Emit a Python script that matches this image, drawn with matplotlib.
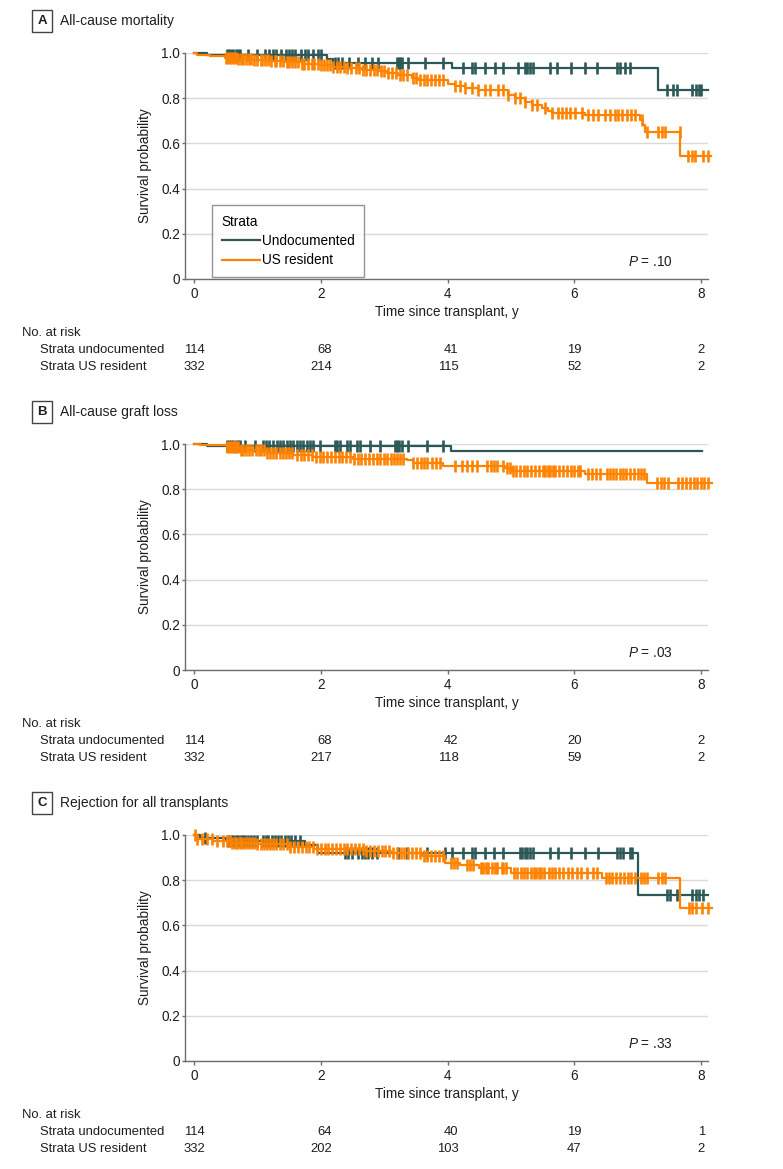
import numpy as np
import matplotlib
matplotlib.use("Agg")
import matplotlib.pyplot as plt
from matplotlib.lines import Line2D
from matplotlib.transforms import blended_transform_factory, ScaledTranslation

plt.rcParams["font.family"] = ["Liberation Sans", "DejaVu Sans"]
plt.rcParams["mathtext.fontset"] = "custom"
plt.rcParams["mathtext.it"] = "Liberation Sans:italic"
plt.rcParams["mathtext.rm"] = "Liberation Sans"

TEAL = "#2c5858"
ORANGE = "#ff8300"
GRAY = "#6e6e6e"
TXT = "#1e1e1e"
FS = 9.8      # axis text
FS_T = 10.0   # panel titles
FS_R = 9.4    # number-at-risk table

# ---------------- data ----------------
titles = ["All-cause mortality", "All-cause graft loss", "Rejection for all transplants"]
letters = ["A", "B", "C"]
p_labels = [".10", ".03", ".33"]
risk_times = [0, 2, 4, 6, 8]
group_names = ["Undocumented", "US resident"]
risk_rows = ["Strata undocumented", "Strata US resident"]

# panel A
A_ud_t = [0, 0.2, 2.1, 2.2, 4.07, 7.32]
A_ud_s = [1.0, 0.99, 0.975, 0.957, 0.932, 0.836]
A_ud_end = 8.1
A_ud_cens = [0.52, 0.55, 0.58, 0.62, 0.66, 0.70, 0.72, 0.85, 1.00, 1.12, 1.18, 1.25, 1.30,
             1.38, 1.45, 1.50, 1.55, 1.60, 1.68, 1.75, 1.80, 1.88, 1.95, 2.00, 2.22, 2.27,
             2.33, 2.45, 2.59, 2.70, 2.81, 2.90, 3.20, 3.23, 3.25, 3.28, 3.38, 3.64, 3.93,
             4.24, 4.39, 4.43, 4.59, 4.75, 4.87, 5.11, 5.22, 5.26, 5.30, 5.35, 5.62, 5.72,
             5.95, 6.17, 6.36, 6.67, 6.72, 6.80, 6.88, 7.46, 7.56, 7.62, 7.85, 7.92, 7.96, 8.00]
A_us_t = [0, 0.05, 0.25, 0.49, 0.7, 0.91, 1.2, 1.44, 1.7, 1.96, 2.2, 2.38, 2.65, 2.9, 3.05,
          3.22, 3.44, 3.53, 4.0, 4.12, 4.27, 4.48, 4.95, 5.06, 5.22, 5.33, 5.49, 5.58, 5.65,
          6.17, 7.03, 7.08, 7.11, 7.67]
A_us_s = [1.0, 0.991, 0.985, 0.98, 0.975, 0.969, 0.964, 0.959, 0.953, 0.947, 0.94, 0.932,
          0.926, 0.92, 0.912, 0.903, 0.888, 0.88, 0.861, 0.855, 0.844, 0.836, 0.814, 0.8,
          0.785, 0.77, 0.755, 0.743, 0.736, 0.726, 0.704, 0.681, 0.652, 0.544]
A_us_end = 8.15
A_us_cens = [0.50, 0.53, 0.56, 0.60, 0.63, 0.67, 0.70, 0.74, 0.78, 0.82, 0.86, 0.90, 0.95,
             1.00, 1.05, 1.08, 1.12, 1.17, 1.22, 1.27, 1.30, 1.35, 1.40, 1.46, 1.50, 1.55,
             1.60, 1.64, 1.70, 1.74, 1.80, 1.86, 1.90, 1.95, 2.00, 2.05, 2.10, 2.15, 2.20,
             2.26, 2.30, 2.36, 2.42, 2.48, 2.55, 2.60, 2.66, 2.72, 2.78, 2.84, 2.88, 2.95,
             3.00, 3.06, 3.12, 3.18, 3.25, 3.30, 3.36, 3.45, 3.50, 3.56, 3.62, 3.68, 3.74,
             3.80, 3.86, 3.92, 4.12, 4.20, 4.27, 4.38, 4.48, 4.59, 4.67, 4.79, 4.87, 4.95,
             5.06, 5.14, 5.22, 5.33, 5.41, 5.54, 5.65, 5.74, 5.80, 5.87, 5.93, 6.01, 6.12,
             6.21, 6.29, 6.37, 6.48, 6.56, 6.64, 6.69, 6.75, 6.83, 6.89, 6.96, 7.07, 7.15,
             7.32, 7.38, 7.43, 7.66, 7.79, 7.85, 7.90, 8.03, 8.11]
A_risk_ud = [114, 68, 41, 19, 2]
A_risk_us = [332, 214, 115, 52, 2]

# panel B
B_ud_t = [0, 0.2, 4.05]
B_ud_s = [1.0, 0.99, 0.968]
B_ud_end = 8.02
B_ud_cens = [0.52, 0.55, 0.58, 0.62, 0.66, 0.70, 0.73, 0.80, 0.96, 1.09, 1.13, 1.18, 1.24,
             1.31, 1.36, 1.41, 1.46, 1.51, 1.56, 1.62, 1.67, 1.72, 1.78, 1.83, 1.88, 1.99,
             2.22, 2.26, 2.30, 2.41, 2.46, 2.57, 2.62, 2.78, 2.93, 3.17, 3.20, 3.24, 3.28,
             3.38, 3.67, 3.93]
B_us_t = [0, 0.1, 0.52, 0.73, 1.15, 1.56, 1.88, 2.51, 3.36, 3.46, 3.93, 4.9, 5.02, 6.17, 7.14]
B_us_s = [1.0, 0.995, 0.985, 0.973, 0.962, 0.951, 0.941, 0.935, 0.929, 0.918, 0.904, 0.892,
          0.882, 0.866, 0.826]
B_us_end = 8.17
B_us_cens = [0.52, 0.55, 0.58, 0.61, 0.64, 0.67, 0.70, 0.74, 0.78, 0.82, 0.87, 0.92, 0.97,
             1.02, 1.06, 1.10, 1.15, 1.20, 1.25, 1.30, 1.35, 1.40, 1.45, 1.50, 1.55, 1.62,
             1.68, 1.74, 1.80, 1.86, 1.92, 1.98, 2.04, 2.10, 2.16, 2.22, 2.28, 2.34, 2.40,
             2.46, 2.52, 2.58, 2.64, 2.70, 2.76, 2.82, 2.88, 2.93, 3.00, 3.05, 3.10, 3.15,
             3.20, 3.25, 3.30, 3.46, 3.52, 3.58, 3.62, 3.68, 3.75, 3.82, 3.88, 4.12, 4.23,
             4.30, 4.38, 4.46, 4.62, 4.68, 4.73, 4.78, 4.87, 4.93, 4.98, 5.03, 5.08, 5.14,
             5.20, 5.26, 5.32, 5.38, 5.44, 5.50, 5.54, 5.58, 5.62, 5.66, 5.70, 5.76, 5.82,
             5.88, 5.94, 6.00, 6.05, 6.09, 6.21, 6.28, 6.34, 6.40, 6.51, 6.56, 6.61, 6.66,
             6.72, 6.77, 6.82, 6.88, 6.94, 7.00, 7.05, 7.10, 7.30, 7.36, 7.42, 7.48, 7.63,
             7.70, 7.76, 7.82, 7.88, 7.94, 8.00, 8.05, 8.10]
B_risk_ud = [114, 68, 42, 20, 2]
B_risk_us = [332, 217, 118, 59, 2]

# panel C
C_ud_t = [0, 0.1, 0.5, 1.75, 1.95, 7.0]
C_ud_s = [1.0, 0.985, 0.975, 0.955, 0.922, 0.735]
C_ud_end = 8.1
C_ud_cens = [0.17, 0.54, 0.58, 0.62, 0.66, 0.70, 0.74, 0.77, 0.80, 0.85, 0.90, 0.95, 0.99,
             1.09, 1.13, 1.17, 1.23, 1.28, 1.33, 1.38, 1.43, 1.48, 1.53, 1.59, 1.67, 2.38,
             2.43, 2.49, 2.59, 2.65, 2.70, 2.75, 2.81, 2.89, 3.22, 3.36, 3.67, 3.96, 4.07,
             4.24, 4.38, 4.43, 4.59, 4.73, 4.87, 5.14, 5.18, 5.22, 5.26, 5.30, 5.35, 5.62,
             5.74, 5.95, 6.17, 6.37, 6.67, 6.72, 6.77, 6.88, 6.91, 7.46, 7.51, 7.62, 7.85,
             7.92, 7.97, 8.03]
C_us_t = [0, 0.05, 0.3, 0.6, 1.0, 1.5, 1.9, 2.7, 3.1, 3.6, 3.96, 4.2, 4.5, 5.0, 6.43, 7.66]
C_us_s = [1.0, 0.981, 0.973, 0.966, 0.959, 0.948, 0.937, 0.929, 0.922, 0.907, 0.878, 0.866,
          0.855, 0.833, 0.811, 0.678]
C_us_end = 8.17
C_us_cens = [0.02, 0.05, 0.12, 0.20, 0.28, 0.36, 0.45, 0.52, 0.56, 0.60, 0.64, 0.68, 0.72,
             0.76, 0.80, 0.85, 0.90, 0.95, 1.00, 1.05, 1.10, 1.15, 1.20, 1.25, 1.30, 1.35,
             1.40, 1.46, 1.52, 1.58, 1.64, 1.70, 1.76, 1.82, 1.88, 1.94, 2.00, 2.06, 2.12,
             2.18, 2.24, 2.30, 2.36, 2.42, 2.48, 2.54, 2.60, 2.66, 2.72, 2.78, 2.84, 2.90,
             2.96, 3.02, 3.08, 3.14, 3.20, 3.26, 3.32, 3.38, 3.44, 3.50, 3.56, 3.62, 3.68,
             3.74, 3.80, 3.86, 3.92, 4.05, 4.10, 4.15, 4.30, 4.35, 4.40, 4.52, 4.56, 4.60,
             4.64, 4.70, 4.74, 4.78, 4.85, 4.88, 4.92, 5.05, 5.10, 5.15, 5.20, 5.26, 5.32,
             5.36, 5.40, 5.44, 5.48, 5.52, 5.60, 5.64, 5.70, 5.76, 5.82, 5.90, 5.96, 6.04,
             6.10, 6.20, 6.30, 6.36, 6.50, 6.55, 6.60, 6.66, 6.72, 6.78, 6.85, 6.90, 6.96,
             7.05, 7.10, 7.15, 7.32, 7.38, 7.43, 7.80, 7.86, 7.92, 8.02, 8.10]
C_risk_ud = [114, 64, 40, 19, 1]
C_risk_us = [332, 202, 103, 47, 2]

panels = [
    (A_ud_t, A_ud_s, A_ud_end, A_ud_cens, A_us_t, A_us_s, A_us_end, A_us_cens, A_risk_ud, A_risk_us),
    (B_ud_t, B_ud_s, B_ud_end, B_ud_cens, B_us_t, B_us_s, B_us_end, B_us_cens, B_risk_ud, B_risk_us),
    (C_ud_t, C_ud_s, C_ud_end, C_ud_cens, C_us_t, C_us_s, C_us_end, C_us_cens, C_risk_ud, C_risk_us),
]

# ---------------- layout (pixels of a 783x1169 figure) ----------------
W, H = 783, 1169
fig = plt.figure(figsize=(W / 100, H / 100), dpi=100)


def fx(px):
    return px / W


def fy(py):
    return 1 - py / H


AX_L, AX_R, AX_H = 185, 708, 226
tops = [53, 444, 835]


def draw_km(ax, t, s, end, cens, color):
    t = np.asarray(t)
    s = np.asarray(s)
    ax.step(np.append(t, end), np.append(s, s[-1]), where="post", color=color,
            lw=1.6, clip_on=False, zorder=3)
    c = np.asarray(cens)
    idx = np.searchsorted(t, c, side="right") - 1
    ax.plot(c, s[idx], ls="none", marker="|", ms=8, mew=1.9, color=color,
            clip_on=False, zorder=3)


for k, (ud_t, ud_s, ud_end, ud_c, us_t, us_s, us_end, us_c, r_ud, r_us) in enumerate(panels):
    top = tops[k]
    bot = top + AX_H
    ax = fig.add_axes([fx(AX_L), fy(bot), fx(AX_R - AX_L), AX_H / H])

    draw_km(ax, ud_t, ud_s, ud_end, ud_c, TEAL)
    draw_km(ax, us_t, us_s, us_end, us_c, ORANGE)

    ax.set_xlim(-0.142, 8.107)
    ax.set_ylim(0, 1.0)
    ax.set_xticks(risk_times)
    ax.set_yticks([0, 0.2, 0.4, 0.6, 0.8, 1.0])
    ax.set_yticklabels(["0", "0.2", "0.4", "0.6", "0.8", "1.0"])
    ax.yaxis.grid(True, color="#d9d9d9", lw=1.0)
    ax.set_axisbelow(True)
    for sp in ["top", "right"]:
        ax.spines[sp].set_visible(False)
    for sp in ["left", "bottom"]:
        ax.spines[sp].set_color(GRAY)
        ax.spines[sp].set_linewidth(1.0)
    ax.tick_params(axis="y", direction="out", length=2.5, width=1, color=GRAY,
                   labelsize=FS, labelcolor=TXT, pad=1)
    ax.tick_params(axis="x", direction="out", length=3, width=1, color=GRAY,
                   labelsize=FS, labelcolor=TXT, pad=2.5)
    ax.set_ylabel("Survival probability", fontsize=FS, color=TXT, labelpad=7)
    ax.set_xlabel("Time since transplant, y", fontsize=FS, color=TXT, labelpad=3)

    # p value
    ax.text(7.55, 0.075, "$P$ = " + p_labels[k], fontsize=FS, ha="right",
            va="center", color=TXT)

    # panel header
    fig.text(fx(42), fy(top - 32), letters[k], fontsize=FS_T - 0.5, fontweight="bold",
             ha="center", va="center", color=TXT,
             bbox=dict(boxstyle="square,pad=0.4", fc="white", ec="#444444", lw=1))
    fig.text(fx(60), fy(top - 32), titles[k], fontsize=FS_T, ha="left",
             va="center", color=TXT)

    # number at risk
    fig.text(fx(22), fy(bot + 54), "No. at risk", fontsize=FS_R, ha="left", va="center",
             color=TXT)
    trans = blended_transform_factory(ax.transData, fig.transFigure)
    for r, name in enumerate(risk_rows):
        fig.text(fx(40), fy(bot + 71 + 17 * r), name, fontsize=FS_R, ha="left",
                 va="center", color=TXT)
    for j, tt in enumerate(risk_times):
        col = [str(r_ud[j]), str(r_us[j])]
        w = max(len(c) for c in col)
        off = ScaledTranslation(w * 0.556 * FS_R / 2 / 72, 0, fig.dpi_scale_trans)
        for r, val in enumerate(col):
            ax.text(tt, fy(bot + 71 + 17 * r), val, transform=trans + off, ha="right",
                    va="center", fontsize=FS_R, color=TXT)

    if k == 0:
        handles = [Line2D([], [], color=TEAL, lw=1.6), Line2D([], [], color=ORANGE, lw=1.6)]
        leg = ax.legend(handles, group_names, title="Strata", loc="lower left",
                        bbox_to_anchor=(0.052, 0.009), borderaxespad=0, fontsize=FS,
                        title_fontsize=FS, frameon=True, fancybox=False,
                        edgecolor="#7a7a7a", handlelength=2.8, handletextpad=0.15,
                        borderpad=0.7, labelspacing=0.4, alignment="left")
        leg.get_frame().set_linewidth(1.0)

fig.savefig("out.png", dpi=100, facecolor="white")
